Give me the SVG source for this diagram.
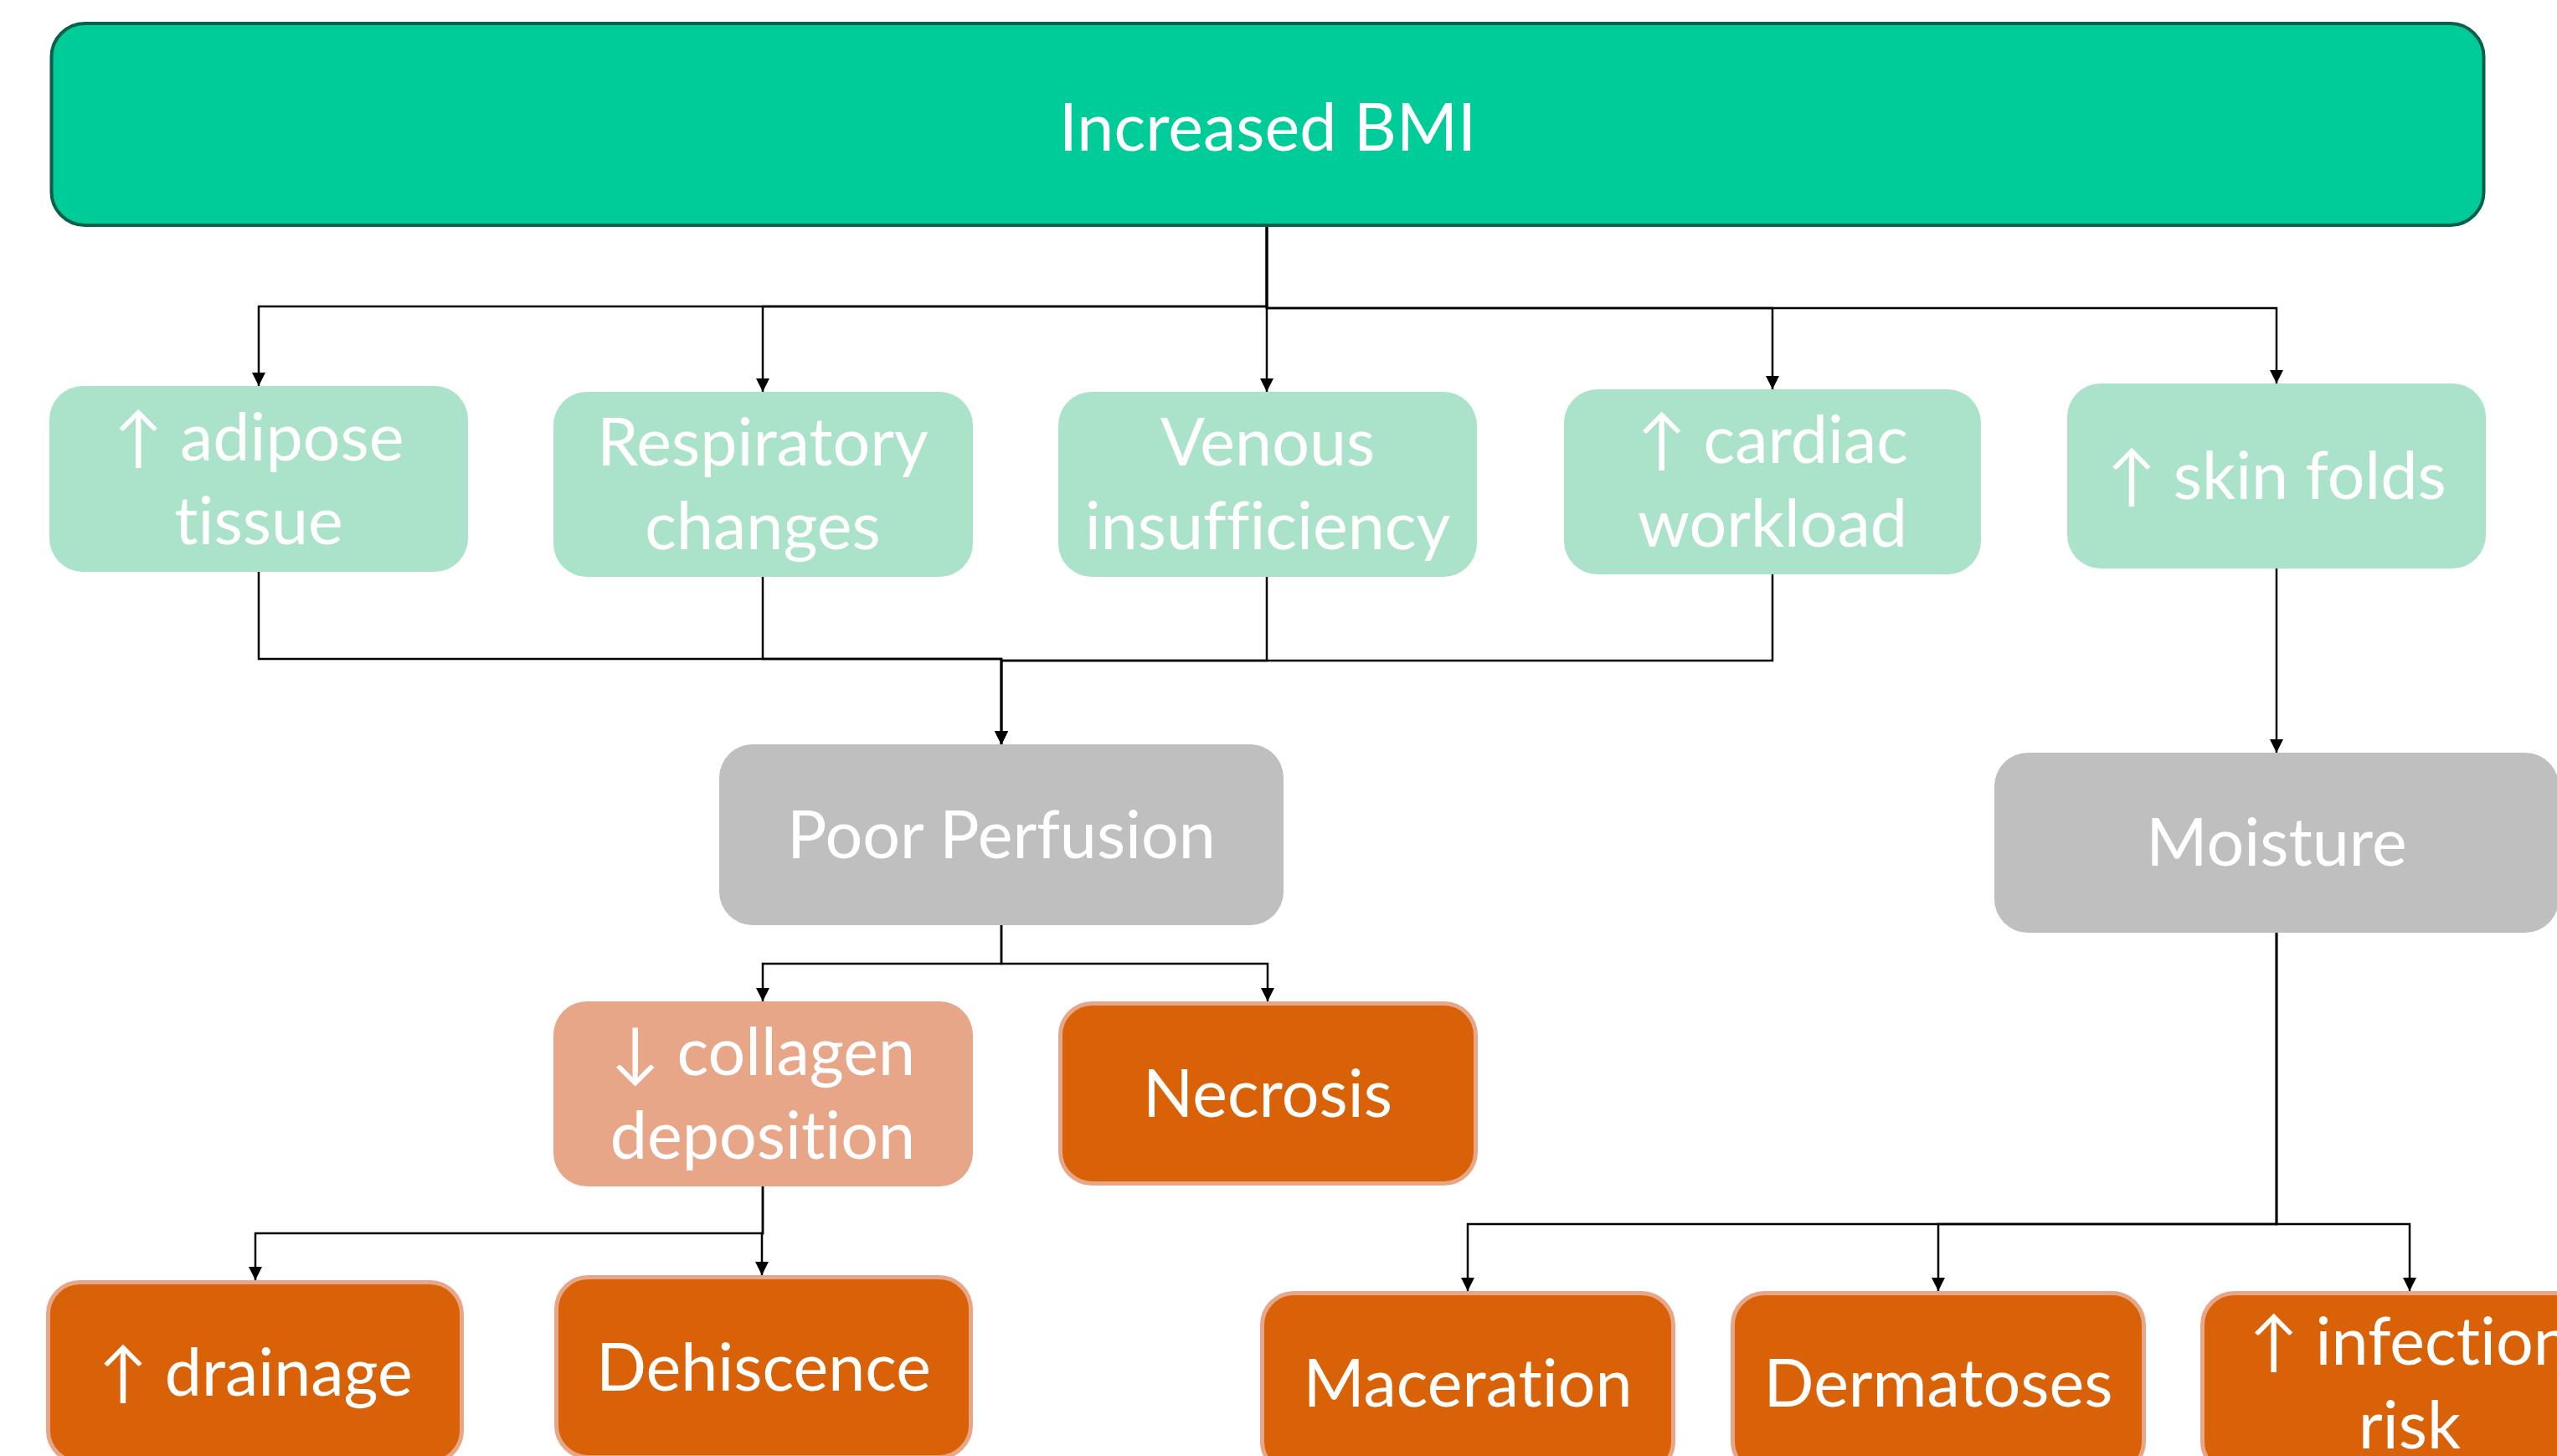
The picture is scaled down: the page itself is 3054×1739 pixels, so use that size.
<svg xmlns="http://www.w3.org/2000/svg" width="3054" height="1739" viewBox="0 0 3054 1739">
<style>
text{font-family:Lato,"Noto Sans","DejaVu Sans",sans-serif;font-size:79px;fill:#ffffff;text-anchor:middle;font-variant-ligatures:none;font-feature-settings:"liga" 0,"clig" 0}
.top{fill:#00CC99;stroke:#07604A;stroke-width:4}
.mint{fill:#ABE2CA}
.gray{fill:#BFBFBF}
.salmon{fill:#E8A688}
.orange{fill:#D96208;stroke:#E8A688;stroke-width:5}
.conn{fill:none;stroke:#000;stroke-width:2.5;marker-end:url(#arr)}
</style>
<defs>
<marker id="arr" markerUnits="userSpaceOnUse" markerWidth="17" markerHeight="16" refX="16" refY="8" orient="auto" viewBox="0 0 17 16">
<path d="M0,0 L16,8 L0,16 Z" fill="#000"/>
</marker>
</defs>
<rect width="3054" height="1739" fill="#ffffff"/>
<g id="connectors">
<path class="conn" d="M1513,271 V366 H309 V461"/>
<path class="conn" d="M1513,271 V366 H911 V468"/>
<path class="conn" d="M1513,271 V468"/>
<path class="conn" d="M1513,271 V368 H2117 V465"/>
<path class="conn" d="M1513,271 V368 H2719 V458"/>
<path class="conn" d="M309,683 V787 H1196 V889"/>
<path class="conn" d="M911,689 V787 H1196 V889"/>
<path class="conn" d="M1513,689 V789 H1196 V889"/>
<path class="conn" d="M2117,686 V789 H1196 V889"/>
<path class="conn" d="M2719,679 V899"/>
<path class="conn" d="M1196,1105 V1151 H911 V1196"/>
<path class="conn" d="M1196,1105 V1151 H1514 V1196"/>
<path class="conn" d="M911,1417 V1473 H305 V1529"/>
<path class="conn" d="M911,1417 V1473 H910 V1523"/>
<path class="conn" d="M2719,1114 V1462 H1753 V1542"/>
<path class="conn" d="M2719,1114 V1462 H2315 V1542"/>
<path class="conn" d="M2719,1114 V1462 H2878 V1542"/>
</g>
<g id="n-bmi"><rect class="top" x="61.5" y="28" width="2905" height="241" rx="40"/><text x="1514" y="180">Increased BMI</text></g>
<g id="n-adipose"><rect class="mint" x="59" y="461" width="500" height="222" rx="40"/><text x="309" y="550">↑ adipose</text><text x="309" y="650">tissue</text></g>
<g id="n-resp"><rect class="mint" x="661" y="468" width="501" height="221" rx="40"/><text x="911" y="556">Respiratory</text><text x="911" y="656">changes</text></g>
<g id="n-venous"><rect class="mint" x="1264" y="468" width="500" height="221" rx="40"/><text x="1514" y="556">Venous</text><text x="1514" y="656">insufficiency</text></g>
<g id="n-cardiac"><rect class="mint" x="1868" y="465" width="498" height="221" rx="40"/><text x="2117" y="553">↑ cardiac</text><text x="2117" y="653">workload</text></g>
<g id="n-skin"><rect class="mint" x="2469" y="458" width="500" height="221" rx="40"/><text x="2719" y="596">↑ skin folds</text></g>
<g id="n-perfusion"><rect class="gray" x="859" y="889" width="674" height="216" rx="40"/><text x="1196" y="1025">Poor Perfusion</text></g>
<g id="n-moisture"><rect class="gray" x="2382" y="899" width="674" height="215" rx="40"/><text x="2719" y="1034">Moisture</text></g>
<g id="n-collagen"><rect class="salmon" x="661" y="1196" width="501" height="221" rx="40"/><text x="911" y="1284">↓ collagen</text><text x="911" y="1384">deposition</text></g>
<g id="n-necrosis"><rect class="orange" x="1266.5" y="1198.5" width="496" height="215" rx="38"/><text x="1514" y="1334">Necrosis</text></g>
<g id="n-drainage"><rect class="orange" x="57.5" y="1531.5" width="494" height="215" rx="38"/><text x="305" y="1667">↑ drainage</text></g>
<g id="n-dehiscence"><rect class="orange" x="664.5" y="1525.5" width="495" height="215" rx="38"/><text x="912" y="1661">Dehiscence</text></g>
<g id="n-maceration"><rect class="orange" x="1507.5" y="1544.5" width="491" height="215" rx="38"/><text x="1753" y="1680">Maceration</text></g>
<g id="n-dermatoses"><rect class="orange" x="2069.5" y="1544.5" width="491" height="215" rx="38"/><text x="2315" y="1680">Dermatoses</text></g>
<g id="n-infection"><rect class="orange" x="2630.5" y="1544.5" width="495" height="215" rx="38"/><text x="2878" y="1630">↑ infection</text><text x="2878" y="1730">risk</text></g>
</svg>
